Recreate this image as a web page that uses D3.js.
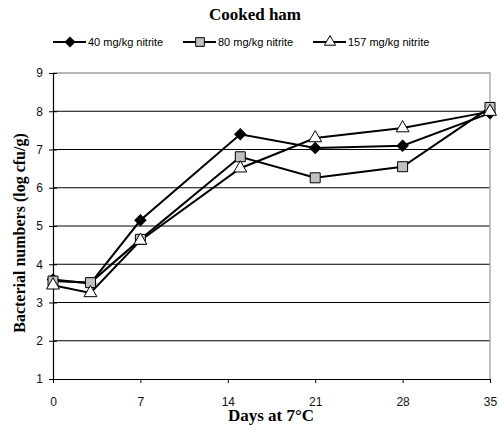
<!DOCTYPE html>
<html>
<head>
<meta charset="utf-8">
<script src="https://cdn.jsdelivr.net/npm/d3@7"></script>
<style>
  body { margin: 0; background: #fff; }
  .tick text { font-family: Arial, "Liberation Sans", sans-serif; font-size: 12px; fill: #111; }
  .axisText { font-family: "Times New Roman", "Liberation Serif", serif; font-weight: bold; font-size: 17px; }
</style>
</head>
<body>
<div id="chart"></div>
<script>
var svgWidth = 500;
var svgHeight = 430;

var margin = { top: 73, right: 10, bottom: 51, left: 53 };
var width = 490 - margin.left;
var height = 379 - margin.top;

// data
var days = [0, 3, 7, 15, 21, 28, 35];
var nitrite40 = [3.6, 3.5, 5.15, 7.4, 7.04, 7.1, 7.95];
var nitrite80 = [3.56, 3.52, 4.65, 6.81, 6.26, 6.55, 8.1];
var nitrite157 = [3.45, 3.25, 4.62, 6.51, 7.3, 7.56, 7.99];
var seriesNames = ["40 mg/kg nitrite", "80 mg/kg nitrite", "157 mg/kg nitrite"];
var xTicks = [0, 7, 14, 21, 28, 35];
var yTicks = [1, 2, 3, 4, 5, 6, 7, 8, 9];

var series = [
  { name: seriesNames[0], values: nitrite40, symbol: d3.symbolSquare, size: 62, rot: 45, fill: "#000" },
  { name: seriesNames[1], values: nitrite80, symbol: d3.symbolSquare, size: 100, rot: 0, fill: "#c0c0c0" },
  { name: seriesNames[2], values: nitrite157, symbol: d3.symbolTriangle, size: 72, rot: 0, fill: "#fff" }
];

var svg = d3.select("#chart")
  .append("svg")
  .attr("width", svgWidth)
  .attr("height", svgHeight);

var chartGroup = svg.append("g")
  .attr("transform", `translate(${margin.left}, ${margin.top})`);

var xScale = d3.scaleLinear().domain([0, 35]).range([0, width]);
var yScale = d3.scaleLinear().domain([1, 9]).range([height, 0]);

// gridlines
chartGroup.selectAll(".grid")
  .data(yTicks.filter(d => d > 1 && d < 9))
  .enter()
  .append("line")
  .attr("x1", 0)
  .attr("x2", width)
  .attr("y1", d => yScale(d))
  .attr("y2", d => yScale(d))
  .attr("stroke", "#000")
  .attr("stroke-width", 1);

// plot border top + right (gray)
chartGroup.append("path")
  .attr("d", `M0,${yScale(9)}H${width}V${height}`)
  .attr("fill", "none")
  .attr("stroke", "#a0a0a0")
  .attr("stroke-width", 1.3);

// axes
var bottomAxis = d3.axisBottom(xScale).tickValues(xTicks).tickSize(4).tickPadding(14).tickSizeOuter(0);
var leftAxis = d3.axisLeft(yScale).tickValues(yTicks).tickSize(4).tickPadding(6).tickSizeOuter(0);

chartGroup.append("g")
  .attr("transform", `translate(0, ${height})`)
  .call(bottomAxis);

var gy = chartGroup.append("g")
  .call(leftAxis);
gy.selectAll(".tick line").attr("x1", 4);

chartGroup.selectAll(".domain").attr("stroke", "#000").attr("stroke-width", 1.2);
chartGroup.selectAll(".tick line").attr("stroke", "#000");

// lines and markers
var line = d3.line()
  .x((d, i) => xScale(days[i]))
  .y(d => yScale(d));

series.forEach(function(s) {
  chartGroup.append("path")
    .datum(s.values)
    .attr("d", line)
    .attr("fill", "none")
    .attr("stroke", "#000")
    .attr("stroke-width", 2);
});

series.forEach(function(s) {
  chartGroup.selectAll(null)
    .data(s.values)
    .enter()
    .append("path")
    .attr("d", d3.symbol().type(s.symbol).size(s.size))
    .attr("transform", (d, i) => `translate(${xScale(days[i])}, ${yScale(d)}) rotate(${s.rot})`)
    .attr("fill", s.fill)
    .attr("stroke", "#000")
    .attr("stroke-width", 1);
});

// title
svg.append("text")
  .attr("x", 255)
  .attr("y", 20)
  .attr("text-anchor", "middle")
  .attr("class", "axisText")
  .text("Cooked ham");

// legend
var legendX = [53, 183, 313];
var legend = svg.selectAll(".legend")
  .data(series)
  .enter()
  .append("g")
  .attr("transform", (d, i) => `translate(${legendX[i]}, 42)`);

legend.append("line")
  .attr("x1", 0).attr("x2", 33)
  .attr("stroke", "#000").attr("stroke-width", 2);

legend.append("path")
  .attr("d", d => d3.symbol().type(d.symbol).size(d.size * 0.75)())
  .attr("transform", d => `translate(17, 0) rotate(${d.rot})`)
  .attr("fill", d => d.fill)
  .attr("stroke", "#000");

legend.append("text")
  .attr("x", 35)
  .attr("y", 4)
  .style("font-family", "Arial, 'Liberation Sans', sans-serif")
  .style("font-size", "11px")
  .text(d => d.name);

// axis labels
svg.append("text")
  .attr("transform", `translate(25, 233) rotate(-90)`)
  .attr("text-anchor", "middle")
  .attr("class", "axisText")
  .style("font-size", "16px")
  .text("Bacterial numbers (log cfu/g)");

svg.append("text")
  .attr("x", 271)
  .attr("y", 421)
  .attr("text-anchor", "middle")
  .attr("class", "axisText")
  .text("Days at 7°C");
</script>
</body>
</html>
